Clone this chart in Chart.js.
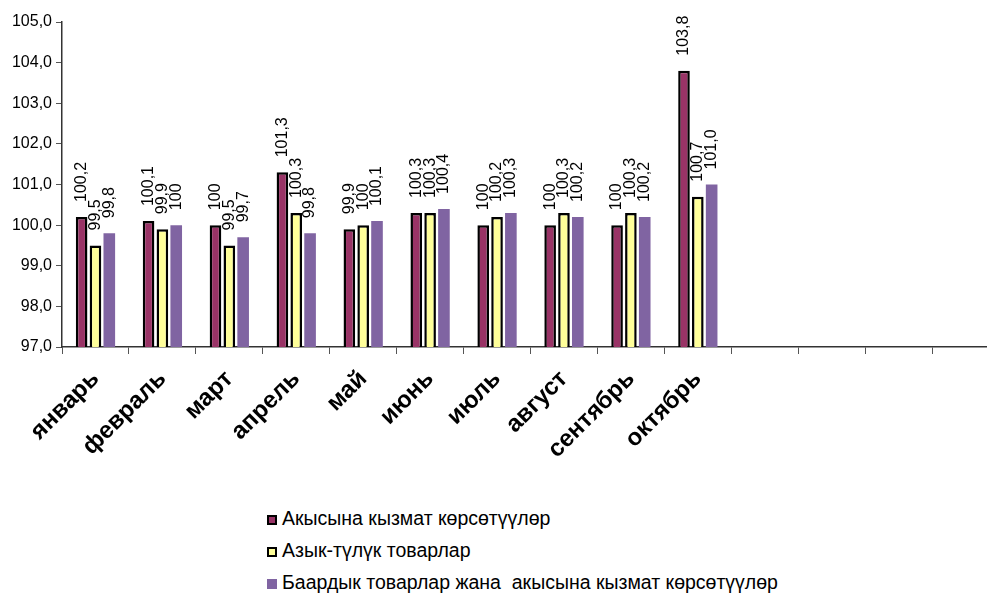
<!DOCTYPE html>
<html>
<head>
<meta charset="utf-8">
<script src="https://cdn.jsdelivr.net/npm/chart.js@4/dist/chart.umd.min.js"></script>
<style>
  html, body { margin: 0; padding: 0; background: #fff; overflow: hidden; }
  #wrap { position: relative; width: 1000px; height: 475px; }
  #legend { position: absolute; left: 267px; top: 505px; font-family: "Liberation Sans", Arial, sans-serif; font-size: 19.5px; color: #000; }
  #legend div { height: 32px; line-height: 26px; white-space: pre; }
  #legend span.box { display: inline-block; width: 10px; height: 10px; margin-right: 5px; vertical-align: 0px; box-sizing: border-box; }
</style>
</head>
<body>
<div id="wrap"><canvas id="chart"></canvas></div>
<div id="legend"></div>
<script>
const months = ["январь", "февраль", "март", "апрель", "май", "июнь", "июль", "август", "сентябрь", "октябрь", "", "", "", ""];

const services = [100.2, 100.1, 100, 101.3, 99.9, 100.3, 100, 100, 100, 103.8];
const food = [99.5, 99.9, 99.5, 100.3, 100, 100.3, 100.2, 100.3, 100.3, 100.7];
const allGoods = [99.8, 100, 99.7, 99.8, 100.1, 100.4, 100.3, 100.2, 100.2, 101.0];

const servicesLabels = ["100,2", "100,1", "100", "101,3", "99,9", "100,3", "100", "100", "100", "103,8"];
const foodLabels = ["99,5", "99,9", "99,5", "100,3", "100", "100,3", "100,2", "100,3", "100,3", "100,7"];
const allGoodsLabels = ["99,8", "100", "99,7", "99,8", "100,1", "100,4", "100,3", "100,2", "100,2", "101,0"];

const seriesNames = ["Акысына кызмат көрсөтүүлөр", "Азык-түлүк товарлар", "Баардык товарлар жана  акысына кызмат көрсөтүүлөр"];

const fontName = "'Liberation Sans', Arial, sans-serif";

// vertical value labels above each bar
const barLabels = {
    id: 'barLabels',
    afterDatasetsDraw(chart) {
        const ctx = chart.ctx;
        chart.data.datasets.forEach((ds, i) => {
            const meta = chart.getDatasetMeta(i);
            meta.data.forEach((bar, j) => {
                const text = ds.valueLabels[j];
                if (!text) return;
                ctx.save();
                ctx.translate(bar.x, bar.y - 15);
                ctx.rotate(-Math.PI / 2);
                ctx.font = "16px " + fontName;
                ctx.fillStyle = "#000";
                ctx.textAlign = "left";
                ctx.textBaseline = "middle";
                ctx.fillText(text, 0, 0);
                ctx.restore();
            });
        });
    }
};

const datasets = [
    { label: seriesNames[0], data: services, valueLabels: servicesLabels, backgroundColor: '#993366', borderColor: '#000', borderWidth: 2.5, borderSkipped: false },
    { label: seriesNames[1], data: food, valueLabels: foodLabels, backgroundColor: '#FFFF99', borderColor: '#000', borderWidth: 2.5, borderSkipped: false },
    { label: seriesNames[2], data: allGoods, valueLabels: allGoodsLabels, backgroundColor: '#8064A2', borderWidth: 0 }
];

new Chart(document.getElementById('chart'), {
    type: 'bar',
    data: { labels: months, datasets: datasets },
    plugins: [barLabels],
    options: {
        responsive: true,
        maintainAspectRatio: false,
        animation: false,
        layout: { padding: { top: 22, left: 0, right: 1, bottom: 0 } },
        datasets: { bar: { categoryPercentage: 0.62, barPercentage: 0.84 } },
        plugins: { legend: { display: false }, tooltip: { enabled: false } },
        scales: {
            x: {
                grid: { offset: true, drawOnChartArea: false, drawTicks: true, tickLength: 7, color: '#555' },
                border: { color: '#333', width: 1.5 },
                ticks: {
                    autoSkip: false, maxRotation: 45, minRotation: 45, padding: 11,
                    color: '#000', font: { family: fontName, size: 24, weight: 'bold' }
                },
                afterFit(scale) { scale.height = 128; }
            },
            y: {
                min: 97, max: 105,
                grid: { drawOnChartArea: false, drawTicks: true, tickLength: 6, color: '#555' },
                border: { color: '#333', width: 1.5 },
                ticks: {
                    stepSize: 1, padding: 4, color: '#000',
                    font: { family: fontName, size: 16 },
                    callback: (v) => v.toFixed(1).replace('.', ',')
                },
                afterFit(scale) { scale.width = 62; }
            }
        }
    }
});

// legend as a vertical list below the chart
const legendElem = document.getElementById('legend');
datasets.forEach((ds) => {
    const border = ds.borderWidth ? '2px solid #000' : 'none';
    legendElem.innerHTML += `<div><span class="box" style="background:${ds.backgroundColor};border:${border}"></span>${ds.label}</div>`;
});
</script>
</body>
</html>
